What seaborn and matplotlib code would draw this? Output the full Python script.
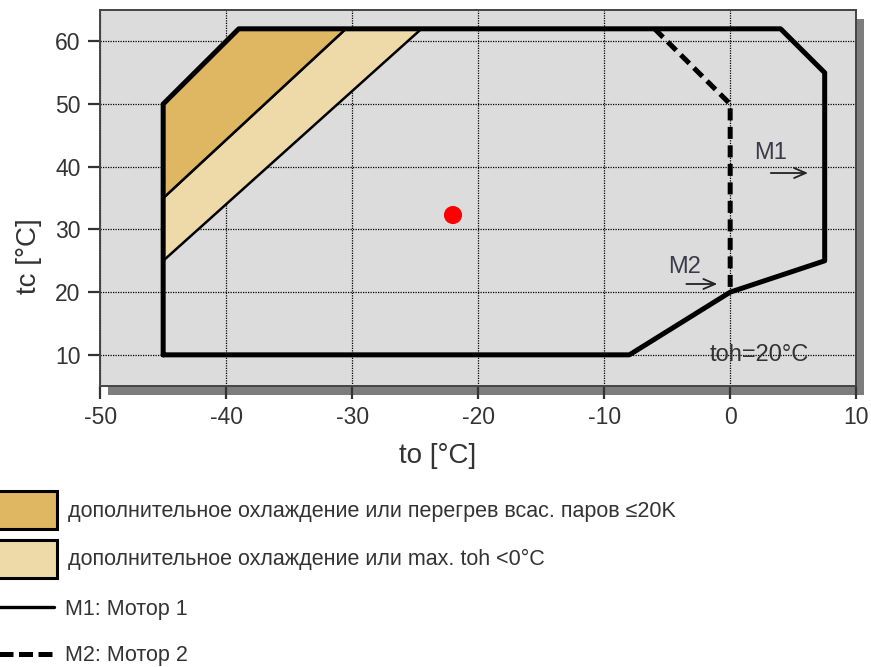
import matplotlib
matplotlib.use("Agg")
import matplotlib.pyplot as plt
import matplotlib.patches as mpatches
import matplotlib.lines as mlines
import seaborn as sns
import pandas as pd

# operating envelope, motor 1 (solid)
m1_to = [-45, -45, -39, 4, 7.5, 7.5, 0, -8, -45]
m1_tc = [10, 50, 62, 62, 55, 25, 20, 10, 10]
# motor 2 limit (dashed)
m2_to = [-6, 0, 0]
m2_tc = [62, 50, 20]
# shaded zones
zone_dark_to = [-45, -45, -39, -30.5]
zone_dark_tc = [35, 50, 62, 62]
zone_light_to = [-45, -45, -30.5, -24.5]
zone_light_tc = [25, 35, 62, 62]
# operating point
point_to = [-22]
point_tc = [32.3]

x_ticks = [-50, -40, -30, -20, -10, 0, 10]
y_ticks = [10, 20, 30, 40, 50, 60]

legend_labels = [
    "дополнительное охлаждение или перегрев всас. паров ≤20K",
    "дополнительное охлаждение или max. toh <0°C",
    "M1: Мотор 1",
    "M2: Мотор 2",
]

dark_fill = "#dfb762"
light_fill = "#eed9a9"
bg = "#dcdcdc"
txt = "#333333"

sns.set_theme(style="white")
plt.rcParams["font.family"] = ["Liberation Sans", "DejaVu Sans"]
plt.rcParams["axes.unicode_minus"] = False

fig = plt.figure(figsize=(8.71, 6.67), dpi=100)
ax = fig.add_axes([0.115, 0.421, 0.868, 0.564])
ax.set_facecolor(bg)

# drop shadow behind the plot area
shadow = mpatches.Rectangle((0.115 + 8 / 871, 0.421 - 9 / 667), 0.868, 0.564,
                            transform=fig.transFigure, facecolor="#7d7d7d",
                            edgecolor="none", zorder=-5)
fig.patches.append(shadow)

ax.fill(zone_light_to, zone_light_tc, facecolor=light_fill, edgecolor="black", lw=1.8, zorder=2)
ax.fill(zone_dark_to, zone_dark_tc, facecolor=dark_fill, edgecolor="black", lw=1.8, zorder=2)

env = pd.DataFrame({"to": m1_to, "tc": m1_tc})
sns.lineplot(data=env, x="to", y="tc", sort=False, color="black", lw=3.6,
             ax=ax, zorder=4, estimator=None)
lim = pd.DataFrame({"to": m2_to, "tc": m2_tc})
sns.lineplot(data=lim, x="to", y="tc", sort=False, color="black", lw=3.6,
             linestyle=(0, (2.4, 1.3)), ax=ax, zorder=4, estimator=None)
sns.scatterplot(x=point_to, y=point_tc, color="#ff0000", s=170, edgecolor="none",
                ax=ax, zorder=5)

arrow = dict(arrowstyle="->,head_length=0.7,head_width=0.3", lw=1.3, color="#222222")
ax.annotate("", xy=(6.4, 39), xytext=(3.0, 39), arrowprops=arrow, zorder=6)
ax.text(1.9, 41.2, "M1", fontsize=17, color="#3a3a4a", zorder=6)
ax.annotate("", xy=(-0.8, 21.3), xytext=(-3.7, 21.3), arrowprops=arrow, zorder=6)
ax.text(-4.9, 23.1, "M2", fontsize=17, color="#3a3a4a", zorder=6)
ax.text(2.3, 10.0, "toh=20°C", fontsize=17, color=txt, ha="center",
        va="center", zorder=6)

ax.set_xlim(-50, 10)
ax.set_ylim(5, 65)
ax.set_xticks(x_ticks)
ax.set_yticks(y_ticks)
ax.grid(True, color="black", linestyle=(0, (1, 1)), lw=0.9, zorder=1)
ax.set_axisbelow(True)
ax.tick_params(axis="both", direction="out", length=9, width=1.6,
               color="#333333", labelsize=16.5, labelcolor=txt, pad=5,
               bottom=True, left=True)
for s in ax.spines.values():
    s.set_color("#444444")
    s.set_linewidth(1.4)
ax.set_xlabel("to [°C]", fontsize=20, color=txt)
ax.set_ylabel("tc [°C]", fontsize=20, color=txt)
ax.xaxis.set_label_coords(0.447, -0.152)
ax.yaxis.set_label_coords(-0.077, 0.346)

# legends below the chart
h1 = [mpatches.Patch(facecolor=dark_fill, edgecolor="black", lw=2.2),
      mpatches.Patch(facecolor=light_fill, edgecolor="black", lw=2.2)]
leg1 = fig.legend(h1, legend_labels[:2], loc="upper left",
                  bbox_to_anchor=(-0.004, 0.264), frameon=False, borderpad=0,
                  borderaxespad=0, handlelength=2.8, handleheight=2.34,
                  handletextpad=0.5, labelspacing=0.5, fontsize=15.5)
h2 = [mlines.Line2D([], [], color="black", lw=2.4),
      mlines.Line2D([], [], color="black", lw=3.6, linestyle=(0, (2.8, 1.1)))]
leg2 = fig.legend(h2, legend_labels[2:], loc="upper left",
                  bbox_to_anchor=(-0.004, 0.102), frameon=False, borderpad=0,
                  borderaxespad=0, handlelength=2.65, handletextpad=0.55,
                  labelspacing=1.18, fontsize=15.5)
for t in leg1.get_texts() + leg2.get_texts():
    t.set_color(txt)

fig.savefig("out.png", dpi=100)
